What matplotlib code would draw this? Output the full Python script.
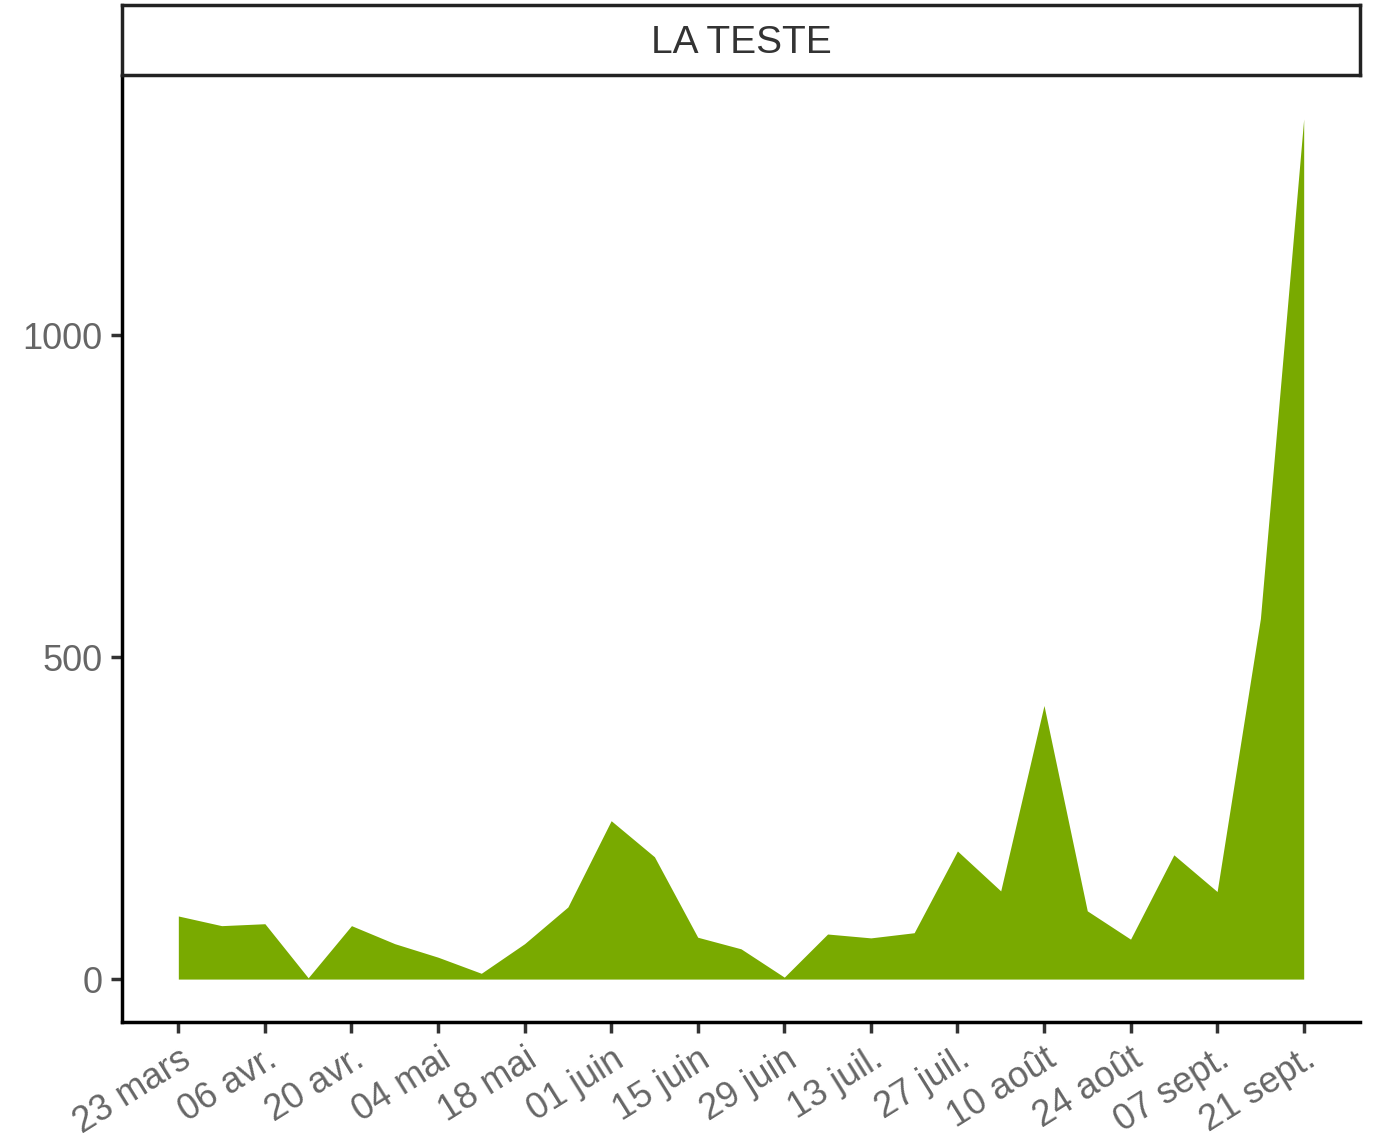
import numpy as np
import pandas as pd
import matplotlib
matplotlib.use("Agg")
import matplotlib.pyplot as plt
import matplotlib.dates as mdates

plt.rcParams['font.family'] = ['Liberation Sans', 'DejaVu Sans']

# weekly values, LA TESTE
weeks = pd.date_range("2020-03-23", "2020-09-21", freq="7D")
cases = [98, 83, 86, 2, 83, 55, 34, 9, 55, 112, 246, 190, 65, 47,
         3, 70, 64, 72, 199, 137, 425, 106, 62, 193, 136, 560, 1336]
tick_dates = pd.date_range("2020-03-23", "2020-09-21", freq="14D")
tick_labels = ["23 mars", "06 avr.", "20 avr.", "04 mai", "18 mai", "01 juin",
               "15 juin", "29 juin", "13 juil.", "27 juil.", "10 août",
               "24 août", "07 sept.", "21 sept."]
facet = "LA TESTE"

green = "#79aa00"
grey_txt = "#666666"

fig = plt.figure(figsize=(13.73, 11.42), dpi=100)
ax = fig.add_axes([0.0889, 0.105, 0.9016, 0.8285])
ax.fill_between(weeks, 0, cases, color=green, linewidth=0)

span = (weeks[-1] - weeks[0]) * 0.05
ax.set_xlim(weeks[0] - span, weeks[-1] + span)
ymax = max(cases)
ax.set_ylim(-0.05 * ymax, 1.05 * ymax)

ax.set_xticks(tick_dates)
ax.set_xticklabels(tick_labels, rotation=32, ha="right", rotation_mode="anchor")
ax.set_yticks([0, 500, 1000])
ax.tick_params(axis="both", length=8, width=2.5, color="#333333",
               labelsize=26, labelcolor=grey_txt, pad=6)

for s in ["top", "right"]:
    ax.spines[s].set_visible(False)
for s in ["left", "bottom"]:
    ax.spines[s].set_linewidth(2.5)
    ax.spines[s].set_color("black")

# facet strip
strip = fig.add_axes([0.0889, 0.9343, 0.9016, 0.061])
strip.set_xticks([])
strip.set_yticks([])
for s in strip.spines.values():
    s.set_linewidth(2.5)
    s.set_color("#222222")
strip.text(0.5, 0.46, facet, ha="center", va="center", fontsize=28,
           color="#333333", transform=strip.transAxes)

fig.savefig("out.png", dpi=100)
